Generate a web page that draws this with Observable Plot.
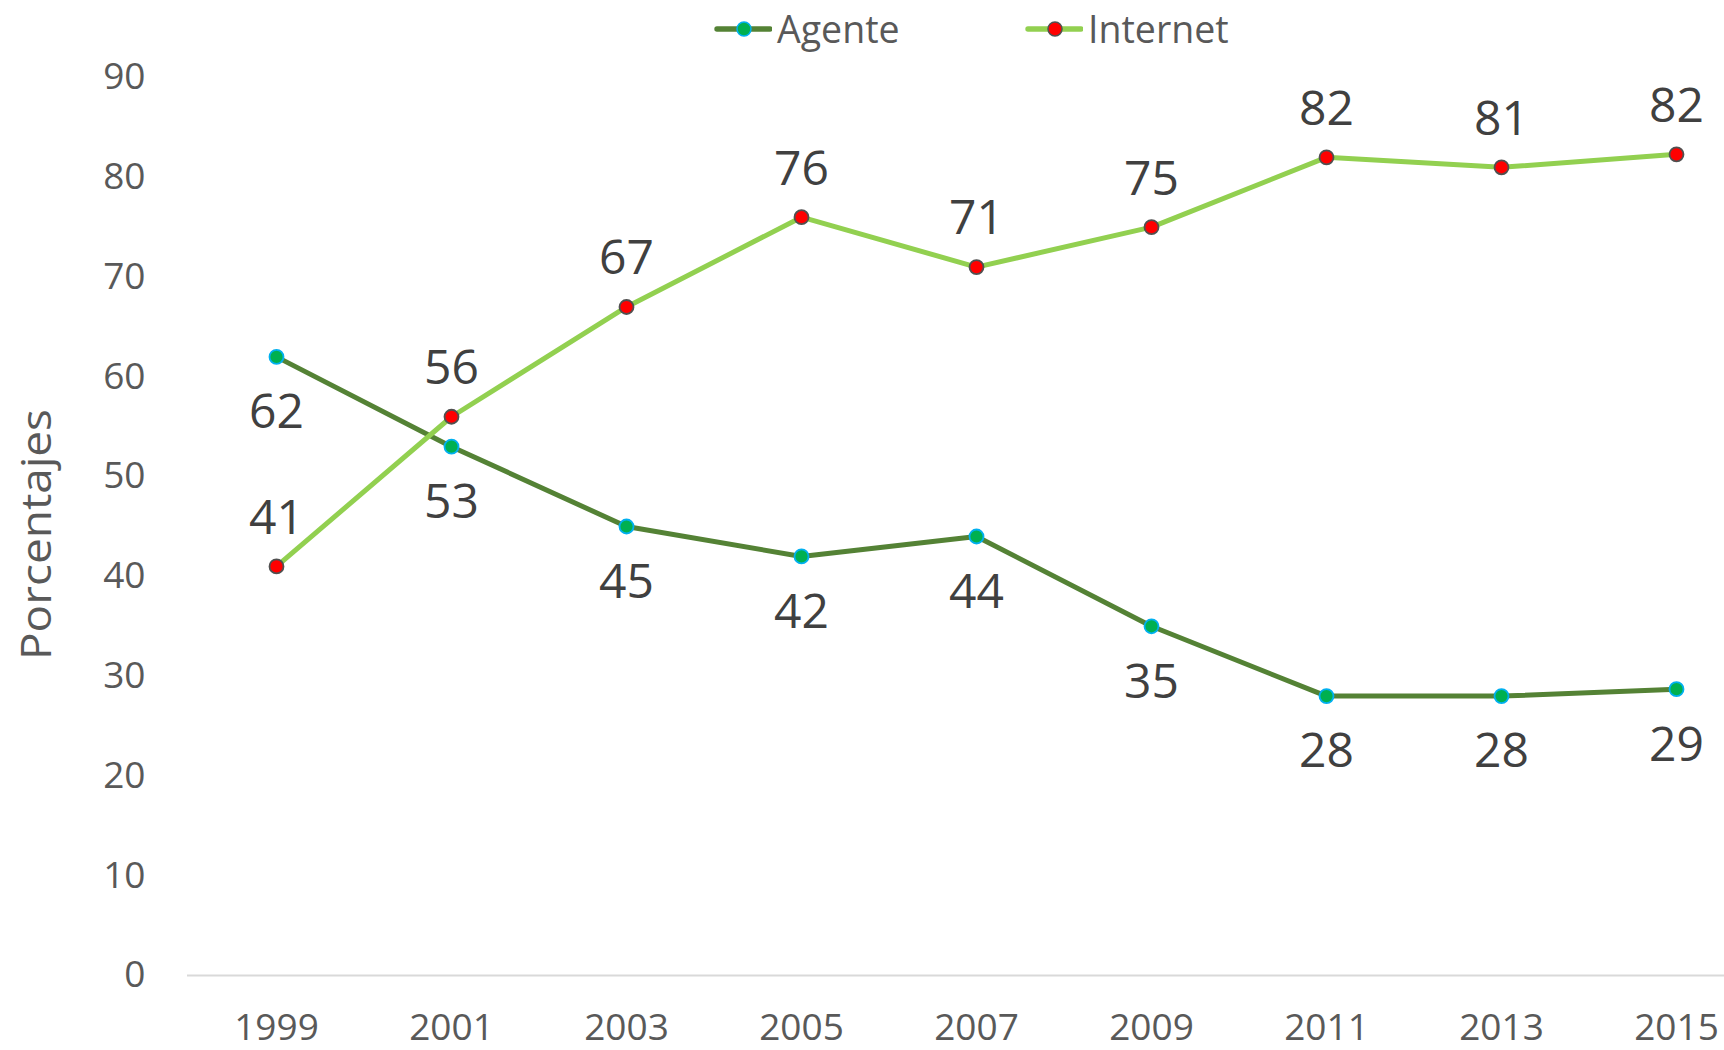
<!DOCTYPE html>
<html><head><meta charset="utf-8">
<script src="https://cdn.jsdelivr.net/npm/d3@7"></script>
<script src="https://cdn.jsdelivr.net/npm/@observablehq/plot@0.6"></script>
<style>
body{margin:0;background:#fff;width:1724px;height:1050px;overflow:hidden;font-family:"Open Sans",sans-serif}
#legend{position:relative;height:55px;width:1724px}
.item{position:absolute;top:0;height:58px;display:flex;align-items:center}
.item span{font-size:37.5px;line-height:1;color:#595959;margin-left:5px}
</style></head><body>
<div id="legend"></div>
<div id="chart"></div>
<script>
// Data
const years = ["1999","2001","2003","2005","2007","2009","2011","2013","2015"];
const agente = [62, 53, 45, 42, 44, 35, 28, 28, 28.7];
const internet = [41, 56, 67, 76, 71, 75, 82, 81, 82.3];
const seriesNames = ["Agente", "Internet"];
const yTicks = [0, 10, 20, 30, 40, 50, 60, 70, 80, 90];
const yLabel = "Porcentajes";

// Styles
const lineColors = {Agente: "#548235", Internet: "#92D050"};
const dotFill = {Agente: "#00B050", Internet: "#FF0000"};
const dotStroke = {Agente: "#00B0F0", Internet: "#505050"};

const rows = (vals) => years.map((y, i) => ({year: y, v: vals[i]}));
const agenteRows = rows(agente);
const internetRows = rows(internet);
const fmt = d3.format(".0f");

// Legend (HTML)
const legendPos = {Agente: 714, Internet: 1025};
const legend = document.getElementById("legend");
for (const s of seriesNames) {
  const item = document.createElement("div");
  item.className = "item";
  item.style.left = legendPos[s] + "px";
  item.innerHTML = `<svg width="58" height="18"><line x1="3" x2="56" y1="9" y2="9" stroke="${lineColors[s]}" stroke-width="5.4" stroke-linecap="round"/><circle cx="30" cy="9" r="7" fill="${dotFill[s]}" stroke="${dotStroke[s]}" stroke-width="1.5"/></svg><span>${s}</span>`;
  legend.appendChild(item);
}

const chart = Plot.plot({
  width: 1724,
  height: 995,
  marginLeft: 187,
  marginRight: 0,
  marginTop: 22,
  marginBottom: 75,
  style: {fontFamily: "Open Sans", background: "white", overflow: "visible"},
  x: {type: "point", domain: years, range: [274, 1678], padding: 0},
  y: {domain: [0, 90]},
  marks: [
    Plot.ruleY([0], {stroke: "#D9D9D9", strokeWidth: 2}),
    Plot.axisY({ticks: yTicks, tickSize: 0, tickPadding: 42, fontSize: 37, fill: "#595959", label: null}),
    Plot.axisX({tickSize: 0, tickPadding: 38, fontSize: 37, fill: "#595959", label: null}),
    Plot.text([yLabel], {frameAnchor: "left", dx: -150, dy: 8, rotate: -90, fontSize: 42, fill: "#595959", textAnchor: "middle", lineAnchor: "middle"}),
    Plot.line(agenteRows, {x: "year", y: "v", stroke: lineColors.Agente, strokeWidth: 5}),
    Plot.line(internetRows, {x: "year", y: "v", stroke: lineColors.Internet, strokeWidth: 5}),
    Plot.dot(agenteRows, {x: "year", y: "v", r: 7, fill: dotFill.Agente, stroke: dotStroke.Agente, strokeWidth: 1.8}),
    Plot.dot(internetRows, {x: "year", y: "v", r: 7, fill: dotFill.Internet, stroke: dotStroke.Internet, strokeWidth: 1.8}),
    Plot.text(agenteRows, {x: "year", y: "v", text: d => fmt(d.v), dy: 56, fontSize: 48, fill: "#404040", lineAnchor: "middle"}),
    Plot.text(internetRows, {x: "year", y: "v", text: d => fmt(d.v), dy: -48, fontSize: 48, fill: "#404040", lineAnchor: "middle"})
  ]
});
document.getElementById("chart").appendChild(chart);
d3.select(chart).selectAll("text")
  .filter(function() { return this.textContent === yLabel; })
  .attr("textLength", 251).attr("lengthAdjust", "spacingAndGlyphs");
</script></body></html>
